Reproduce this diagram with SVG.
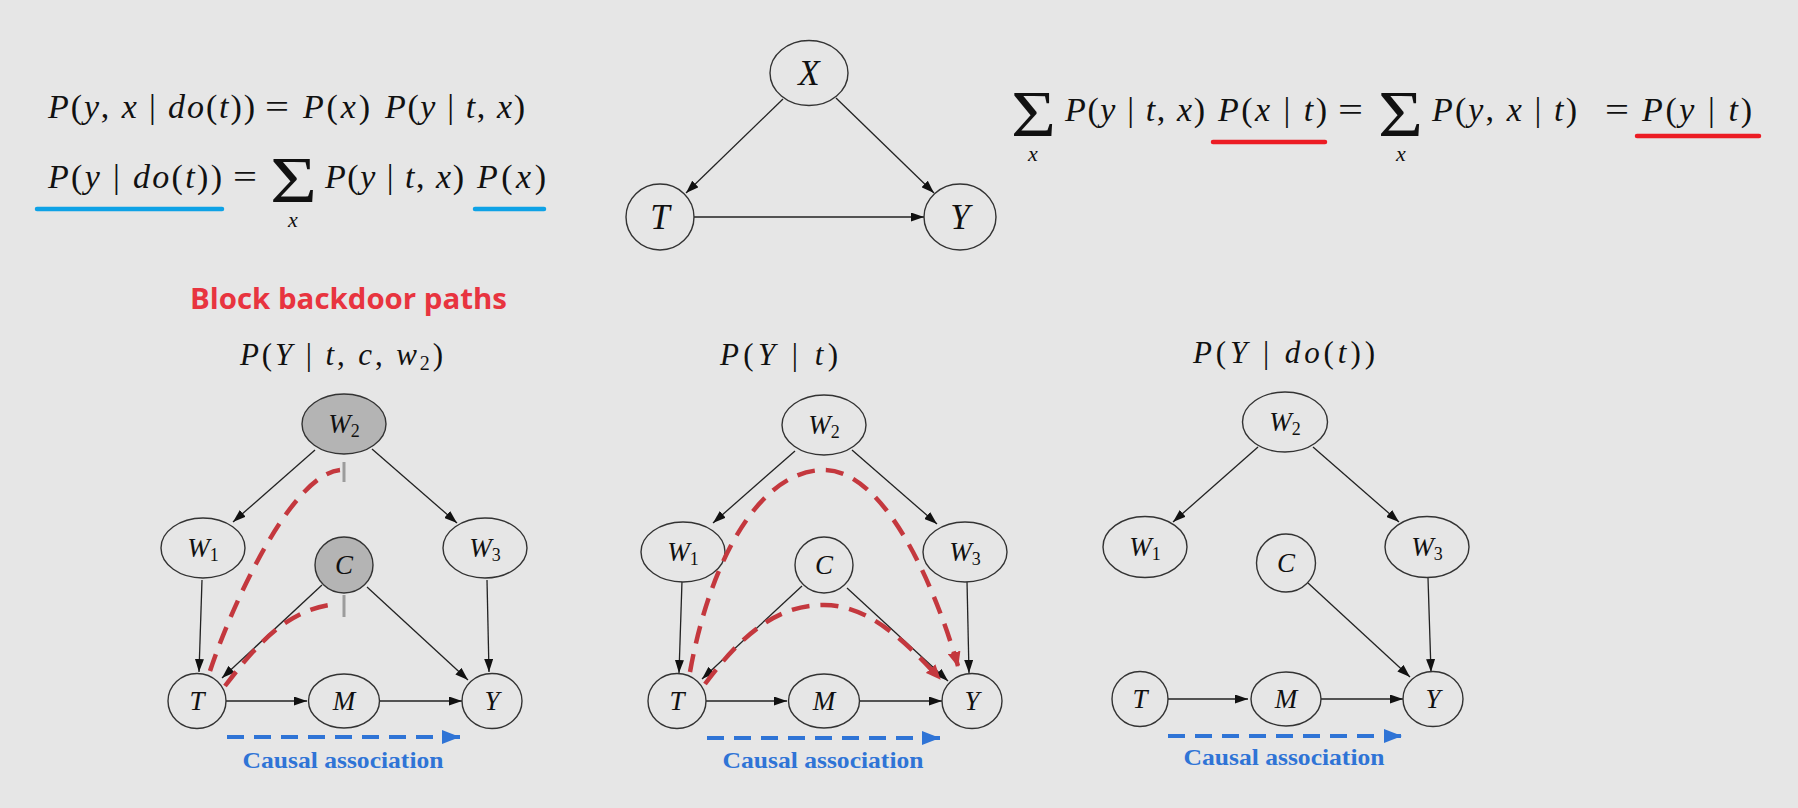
<svg xmlns="http://www.w3.org/2000/svg" width="1798" height="808" viewBox="0 0 1798 808">
<defs>
<style>
.m{font-family:"Liberation Serif",serif;fill:#111;font-size:34px}
.i{font-style:italic}
.t{font-family:"Liberation Serif",serif;fill:#111;font-size:31px}
.lbl{font-family:"Liberation Serif",serif;fill:#111;font-size:27px;text-anchor:middle}
.sub{font-size:18px;font-style:normal}
.big{font-family:"Liberation Serif",serif;fill:#111;font-size:35px;text-anchor:middle;font-style:italic}
.node{fill:#e6e6e6;stroke:#333;stroke-width:1.4}
.shaded{fill:#b4b4b4}
.edge{stroke:#222;stroke-width:1.3;fill:none;marker-end:url(#ah)}
.bd{stroke:#c4383e;stroke-width:4.5;fill:none;stroke-dasharray:18 11}
.bda{marker-end:url(#rh)}
.ca{stroke:#2f74d6;stroke-width:4;fill:none;stroke-dasharray:17 10;marker-end:url(#bh)}
.cat{font-family:"Liberation Serif",serif;font-weight:bold;fill:#2f74d6;font-size:23px;text-anchor:middle}
.ul{stroke-width:4.5;stroke-linecap:round;fill:none}
.tick{stroke:#9c9c9c;stroke-width:3}
</style>
<marker id="ah" markerUnits="userSpaceOnUse" markerWidth="13" markerHeight="9" refX="13" refY="4.5" orient="auto"><path d="M0,0 L13,4.5 L0,9 z" fill="#111"/></marker>
<marker id="rh" markerUnits="userSpaceOnUse" markerWidth="15" markerHeight="13" refX="14" refY="6.5" orient="auto"><path d="M0,0 L15,6.5 L0,13 z" fill="#c4383e"/></marker>
<marker id="bh" markerUnits="userSpaceOnUse" markerWidth="18" markerHeight="14" refX="18" refY="7" orient="auto"><path d="M0,0 L18,7 L0,14 z" fill="#2f74d6"/></marker>
</defs>
<rect width="1798" height="808" fill="#e6e6e6"/>

<g id="equations-left">
<text class="m" x="48" y="118" textLength="207" lengthAdjust="spacing"><tspan class="i">P</tspan>(<tspan class="i">y</tspan>, <tspan class="i">x</tspan> | <tspan class="i">do</tspan>(<tspan class="i">t</tspan>))</text>
<text class="m" x="265" y="118" textLength="24" lengthAdjust="spacingAndGlyphs">=</text>
<text class="m" x="303" y="118" textLength="67" lengthAdjust="spacing"><tspan class="i">P</tspan>(<tspan class="i">x</tspan>)</text>
<text class="m" x="385" y="118" textLength="140" lengthAdjust="spacing"><tspan class="i">P</tspan>(<tspan class="i">y</tspan> | <tspan class="i">t</tspan>, <tspan class="i">x</tspan>)</text>
<text class="m" x="48" y="188" textLength="174" lengthAdjust="spacing"><tspan class="i">P</tspan>(<tspan class="i">y</tspan> | <tspan class="i">do</tspan>(<tspan class="i">t</tspan>))</text>
<text class="m" x="233" y="188" textLength="24" lengthAdjust="spacingAndGlyphs">=</text>
<text class="m" x="270" y="202" style="font-size:66px" textLength="47" lengthAdjust="spacingAndGlyphs">Σ</text>
<text class="m i" x="293" y="227" style="font-size:22px" text-anchor="middle">x</text>
<text class="m" x="325" y="188" textLength="139" lengthAdjust="spacing"><tspan class="i">P</tspan>(<tspan class="i">y</tspan> | <tspan class="i">t</tspan>, <tspan class="i">x</tspan>)</text>
<text class="m" x="477" y="188" textLength="69" lengthAdjust="spacing"><tspan class="i">P</tspan>(<tspan class="i">x</tspan>)</text>
<line class="ul" x1="37" y1="209" x2="222" y2="209" stroke="#0ea2e6"/>
<line class="ul" x1="475" y1="209" x2="544" y2="209" stroke="#0ea2e6"/>
</g>

<g id="equations-right">
<text class="m" x="1011" y="136" style="font-size:66px" textLength="45" lengthAdjust="spacingAndGlyphs">Σ</text>
<text class="m i" x="1033" y="161" style="font-size:22px" text-anchor="middle">x</text>
<text class="m" x="1065" y="121" textLength="140" lengthAdjust="spacing"><tspan class="i">P</tspan>(<tspan class="i">y</tspan> | <tspan class="i">t</tspan>, <tspan class="i">x</tspan>)</text>
<text class="m" x="1218" y="121" textLength="109" lengthAdjust="spacing"><tspan class="i">P</tspan>(<tspan class="i">x</tspan> | <tspan class="i">t</tspan>)</text>
<text class="m" x="1338" y="121" textLength="25" lengthAdjust="spacingAndGlyphs">=</text>
<text class="m" x="1378" y="136" style="font-size:66px" textLength="45" lengthAdjust="spacingAndGlyphs">Σ</text>
<text class="m i" x="1401" y="161" style="font-size:22px" text-anchor="middle">x</text>
<text class="m" x="1432" y="121" textLength="145" lengthAdjust="spacing"><tspan class="i">P</tspan>(<tspan class="i">y</tspan>, <tspan class="i">x</tspan> | <tspan class="i">t</tspan>)</text>
<text class="m" x="1605" y="121" textLength="24" lengthAdjust="spacingAndGlyphs">=</text>
<text class="m" x="1642" y="121" textLength="110" lengthAdjust="spacing"><tspan class="i">P</tspan>(<tspan class="i">y</tspan> | <tspan class="i">t</tspan>)</text>
<line class="ul" x1="1213" y1="142" x2="1325" y2="142" stroke="#ec1c24"/>
<line class="ul" x1="1637" y1="136" x2="1759" y2="136" stroke="#ec1c24"/>
</g>

<g id="top-graph">
<g id="top-connectors">
<line class="edge" x1="783" y1="99" x2="686" y2="193"/>
<line class="edge" x1="836" y1="98" x2="934" y2="193"/>
<line class="edge" x1="694" y1="217" x2="924" y2="217"/>
</g>
<g id="top-X"><ellipse class="node" cx="809" cy="73" rx="39" ry="32.5"/><text class="big" x="809" y="85">X</text></g>
<g id="top-T"><ellipse class="node" cx="660" cy="217" rx="34" ry="33"/><text class="big" x="660" y="229">T</text></g>
<g id="top-Y"><ellipse class="node" cx="960" cy="217" rx="36" ry="33"/><text class="big" x="960" y="229">Y</text></g>
</g>

<text x="190" y="309" font-family="'Open Sans','Noto Sans',sans-serif" font-weight="bold" font-size="29" fill="#e8343f" textLength="317" lengthAdjust="spacingAndGlyphs">Block backdoor paths</text>

<text class="t" x="240" y="365" textLength="203" lengthAdjust="spacing"><tspan class="i">P</tspan>(<tspan class="i">Y</tspan> | <tspan class="i">t</tspan>, <tspan class="i">c</tspan>, <tspan class="i">w</tspan><tspan style="font-size:20px" dy="5">2</tspan><tspan dy="-5">)</tspan></text>
<text class="t" x="720" y="365" textLength="118" lengthAdjust="spacing"><tspan class="i">P</tspan>(<tspan class="i">Y</tspan> | <tspan class="i">t</tspan>)</text>
<text class="t" x="1193" y="363" textLength="182" lengthAdjust="spacing"><tspan class="i">P</tspan>(<tspan class="i">Y</tspan> | <tspan class="i">do</tspan>(<tspan class="i">t</tspan>))</text>

<!-- Panel 1 -->
<g id="panel1" transform="translate(344,424)">
<g id="p1-connectors">
<line class="edge" x1="-29" y1="26" x2="-111" y2="98"/>
<line class="edge" x1="28" y1="25" x2="113" y2="99"/>
<line class="edge" x1="-142" y1="156" x2="-145" y2="248"/>
<line class="edge" x1="-22" y1="161" x2="-122" y2="254"/>
<line class="edge" x1="23" y1="163" x2="124" y2="256"/>
<line class="edge" x1="143" y1="156" x2="145" y2="248"/>
<line class="edge" x1="-118" y1="277" x2="-37" y2="277"/>
<line class="edge" x1="35" y1="277" x2="118" y2="277"/>
<line class="ca" x1="-117" y1="313" x2="116" y2="313"/>
</g>
<g id="p1-W2"><ellipse class="node shaded" cx="0" cy="0" rx="42" ry="30"/><text class="lbl" x="0" y="9"><tspan class="i">W</tspan><tspan class="sub" dy="4">2</tspan></text></g>
<g id="p1-W1"><ellipse class="node" cx="-141" cy="124" rx="42" ry="30"/><text class="lbl" x="-141" y="133"><tspan class="i">W</tspan><tspan class="sub" dy="4">1</tspan></text></g>
<g id="p1-W3"><ellipse class="node" cx="141" cy="124" rx="42" ry="30"/><text class="lbl" x="141" y="133"><tspan class="i">W</tspan><tspan class="sub" dy="4">3</tspan></text></g>
<g id="p1-C"><ellipse class="node shaded" cx="0" cy="141" rx="29" ry="28"/><text class="lbl i" x="0" y="150">C</text></g>
<g id="p1-T"><ellipse class="node" cx="-147" cy="277" rx="29" ry="27.5"/><text class="lbl i" x="-147" y="286">T</text></g>
<g id="p1-M"><ellipse class="node" cx="0" cy="277" rx="35.5" ry="27"/><text class="lbl i" x="0" y="286">M</text></g>
<g id="p1-Y"><ellipse class="node" cx="148" cy="277" rx="30" ry="27.5"/><text class="lbl i" x="148" y="286">Y</text></g>
<text class="cat" x="-1" y="344" textLength="201" lengthAdjust="spacingAndGlyphs">Causal association</text>
</g>
<g id="p1-backdoor">
<path class="bd" d="M210 671 C230 610 290 475 340 470"/>
<path class="bd" d="M225 686 C260 640 290 608 338 604"/>
<line class="tick" x1="344" y1="462" x2="344" y2="482"/>
<line class="tick" x1="344" y1="595" x2="344" y2="617"/>
</g>

<!-- Panel 2 -->
<g id="panel2" transform="translate(824,425)">
<g id="p2-connectors">
<line class="edge" x1="-29" y1="26" x2="-111" y2="98"/>
<line class="edge" x1="28" y1="25" x2="113" y2="99"/>
<line class="edge" x1="-142" y1="156" x2="-145" y2="248"/>
<line class="edge" x1="-22" y1="161" x2="-122" y2="254"/>
<line class="edge" x1="23" y1="163" x2="124" y2="256"/>
<line class="edge" x1="143" y1="156" x2="145" y2="248"/>
<line class="edge" x1="-118" y1="276" x2="-37" y2="276"/>
<line class="edge" x1="35" y1="276" x2="118" y2="276"/>
<line class="ca" x1="-117" y1="313" x2="116" y2="313"/>
</g>
<g id="p2-W2"><ellipse class="node" cx="0" cy="0" rx="42" ry="30"/><text class="lbl" x="0" y="9"><tspan class="i">W</tspan><tspan class="sub" dy="4">2</tspan></text></g>
<g id="p2-W1"><ellipse class="node" cx="-141" cy="127" rx="42" ry="30"/><text class="lbl" x="-141" y="136"><tspan class="i">W</tspan><tspan class="sub" dy="4">1</tspan></text></g>
<g id="p2-W3"><ellipse class="node" cx="141" cy="127" rx="42" ry="30"/><text class="lbl" x="141" y="136"><tspan class="i">W</tspan><tspan class="sub" dy="4">3</tspan></text></g>
<g id="p2-C"><ellipse class="node" cx="0" cy="140" rx="29" ry="28"/><text class="lbl i" x="0" y="149">C</text></g>
<g id="p2-T"><ellipse class="node" cx="-147" cy="276" rx="29" ry="27.5"/><text class="lbl i" x="-147" y="285">T</text></g>
<g id="p2-M"><ellipse class="node" cx="0" cy="276" rx="35.5" ry="27"/><text class="lbl i" x="0" y="285">M</text></g>
<g id="p2-Y"><ellipse class="node" cx="148" cy="276" rx="30" ry="27.5"/><text class="lbl i" x="148" y="285">Y</text></g>
<text class="cat" x="-1" y="343" textLength="201" lengthAdjust="spacingAndGlyphs">Causal association</text>
</g>
<g id="p2-backdoor">
<path class="bd bda" d="M690 672 C710 560 760 470 824 470 C880 470 930 570 958 666"/>
<path class="bd bda" d="M705 684 C745 630 780 605 824 605 C865 605 900 635 940 679"/>
</g>

<!-- Panel 3 -->
<g id="panel3" transform="translate(1285,422)">
<g id="p3-connectors">
<line class="edge" x1="-27" y1="25" x2="-112" y2="100"/>
<line class="edge" x1="28" y1="25" x2="114" y2="100"/>
<line class="edge" x1="23" y1="161" x2="125" y2="255"/>
<line class="edge" x1="143" y1="156" x2="146" y2="250"/>
<line class="edge" x1="-117" y1="277" x2="-37" y2="277"/>
<line class="edge" x1="36" y1="277" x2="118" y2="277"/>
<line class="ca" x1="-117" y1="314" x2="117" y2="314"/>
</g>
<g id="p3-W2"><ellipse class="node" cx="0" cy="0" rx="42.5" ry="30"/><text class="lbl" x="0" y="9"><tspan class="i">W</tspan><tspan class="sub" dy="4">2</tspan></text></g>
<g id="p3-W1"><ellipse class="node" cx="-140" cy="125" rx="42" ry="30.5"/><text class="lbl" x="-140" y="134"><tspan class="i">W</tspan><tspan class="sub" dy="4">1</tspan></text></g>
<g id="p3-W3"><ellipse class="node" cx="142" cy="125" rx="42" ry="30.5"/><text class="lbl" x="142" y="134"><tspan class="i">W</tspan><tspan class="sub" dy="4">3</tspan></text></g>
<g id="p3-C"><ellipse class="node" cx="1" cy="141" rx="29.5" ry="29"/><text class="lbl i" x="1" y="150">C</text></g>
<g id="p3-T"><ellipse class="node" cx="-145" cy="277" rx="28" ry="27.5"/><text class="lbl i" x="-145" y="286">T</text></g>
<g id="p3-M"><ellipse class="node" cx="1" cy="277" rx="35" ry="27"/><text class="lbl i" x="1" y="286">M</text></g>
<g id="p3-Y"><ellipse class="node" cx="148" cy="277" rx="30" ry="27.5"/><text class="lbl i" x="148" y="286">Y</text></g>
<text class="cat" x="-1" y="343" textLength="201" lengthAdjust="spacingAndGlyphs">Causal association</text>
</g>
</svg>
